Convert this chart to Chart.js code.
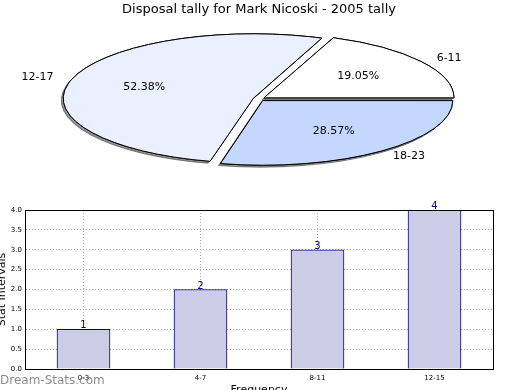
<!DOCTYPE html>
<html>
<head>
<meta charset="utf-8">
<script src="https://cdn.jsdelivr.net/npm/chart.js@4.4.1/dist/chart.umd.min.js"></script>
<style>
  body { margin: 0; background: #fff; }
  #wrap { position: relative; width: 520px; height: 390px; overflow: hidden; }
  canvas { position: absolute; left: 0; }
  #pieChart { top: 0; }
  #barChart { top: 195px; }
  #watermark { position: absolute; left: 0; top: 373px; font: 12px/14px 'DejaVu Sans'; color: rgba(120, 120, 120, 0.85); }
</style>
</head>
<body>
<div id="wrap">
  <canvas id="pieChart" width="520" height="195"></canvas>
  <canvas id="barChart" width="520" height="195"></canvas>
  <div id="watermark">Dream-Stats.com</div>
</div>
<script>
// pie: disposal ranges (counter-clockwise from 3 o'clock, like the original)
const pieLabels = ['6-11', '12-17', '18-23'];
const pieCounts = [4, 11, 6];
const pieColors = ['#ffffff', '#eaf0ff', '#c4d8ff'];

// bars
const barLabels = ['0-3', '4-7', '8-11', '12-15'];
const barValues = [1, 2, 3, 4];
const yTickLabels = ['0.0', '0.5', '1.0', '1.5', '2.0', '2.5', '3.0', '3.5', '4.0'];

const pieRadius = 190;
const squash = 0.34;
const explode = 24;

Chart.defaults.font.family = "'DejaVu Sans', sans-serif";
Chart.defaults.color = '#000';

// chart.js draws clockwise, so feed the slices in reverse order
const rev = arr => arr.slice().reverse();

const ellipsePie = {
    id: 'ellipsePie',
    afterDatasetsUpdate(chart) {
        chart.getDatasetMeta(0).data.forEach(arc => {
            const fix = 1 - Math.sin(Math.min(Math.PI, arc.circumference));
            arc.outerRadius = pieRadius - explode / 4 * fix;
        });
    },
    beforeDatasetsDraw(chart) {
        const ctx = chart.ctx;
        const arcs = chart.getDatasetMeta(0).data;
        const {x, y} = arcs[0];
        const base = ctx.getTransform();
        ctx.save();
        ctx.translate(x, y);
        ctx.scale(1, squash);
        ctx.translate(-x, -y);
        // outline is stroked without the squash so it keeps a 1px width
        ctx.stroke = function () {
            const t = this.getTransform();
            this.setTransform(base);
            CanvasRenderingContext2D.prototype.stroke.call(this);
            this.setTransform(t);
        };
        // shadow pass
        ctx.shadowColor = 'rgba(0, 0, 0, 0.42)';
        ctx.shadowOffsetX = -2;
        ctx.shadowOffsetY = 2;
        ctx.shadowBlur = 0.5;
        arcs.forEach(arc => arc.draw(ctx));
        ctx.shadowColor = 'rgba(0, 0, 0, 0)';
    },
    afterDatasetsDraw(chart) {
        const ctx = chart.ctx;
        ctx.restore();
        delete ctx.stroke;

        const data = chart.data.datasets[0].data;
        const total = data.reduce((a, b) => a + b, 0);
        const shift = explode / 4;
        ctx.save();
        ctx.font = "11px 'DejaVu Sans'";
        ctx.fillStyle = '#000';
        ctx.textBaseline = 'middle';
        chart.getDatasetMeta(0).data.forEach((arc, i) => {
            const mid = (arc.startAngle + arc.endAngle) / 2;
            const cos = Math.cos(mid), sin = Math.sin(mid);
            const lr = shift + pieRadius * 1.1;
            ctx.textAlign = cos >= 0 ? 'left' : 'right';
            ctx.fillText(chart.data.labels[i], arc.x + cos * lr, arc.y + sin * lr * squash);
            const pr = shift + pieRadius * 0.6;
            ctx.textAlign = 'center';
            ctx.fillText((data[i] / total * 100).toFixed(2) + '%', arc.x + cos * pr, arc.y + sin * pr * squash);
        });
        ctx.restore();
    }
};

new Chart(document.getElementById('pieChart'), {
    type: 'pie',
    data: {
        labels: rev(pieLabels),
        datasets: [{
            data: rev(pieCounts),
            backgroundColor: rev(pieColors),
            borderColor: '#000',
            borderWidth: 1,
            offset: explode,
            radius: pieRadius,
            clip: false
        }]
    },
    options: {
        responsive: false,
        animation: false,
        rotation: 90,
        layout: { padding: { left: 0, right: 2, top: 0, bottom: 14.6 } },
        plugins: {
            legend: { display: false },
            tooltip: { enabled: false },
            title: {
                display: true,
                text: 'Disposal tally for Mark Nicoski - 2005 tally',
                font: { size: 13, weight: 'normal' },
                color: '#000',
                padding: { top: 2, bottom: 0 }
            }
        }
    },
    plugins: [ellipsePie]
});

const barExtras = {
    id: 'barExtras',
    afterDatasetsDraw(chart) {
        const ctx = chart.ctx;
        const values = chart.data.datasets[0].data;
        ctx.save();
        ctx.font = "10px 'DejaVu Sans'";
        ctx.fillStyle = '#000080';
        ctx.textAlign = 'center';
        ctx.textBaseline = 'alphabetic';
        chart.getDatasetMeta(0).data.forEach((bar, i) => {
            ctx.fillText(String(values[i]), bar.x, bar.y - 1);
        });
        ctx.restore();
    },
    afterDraw(chart) {
        const {left, right, top, bottom} = chart.chartArea;
        const ctx = chart.ctx;
        ctx.save();
        ctx.strokeStyle = '#000';
        ctx.lineWidth = 1;
        ctx.strokeRect(Math.round(left) + 0.5, Math.round(top) + 0.5,
            Math.round(right - left), Math.round(bottom - top));
        ctx.restore();
    }
};

new Chart(document.getElementById('barChart'), {
    type: 'bar',
    data: {
        labels: barLabels,
        datasets: [{
            data: barValues,
            backgroundColor: '#cccce6',
            borderColor: '#000080',
            borderWidth: 1,
            barThickness: 53
        }]
    },
    options: {
        responsive: false,
        animation: false,
        layout: { padding: { left: 0, right: 27, top: 15, bottom: 0 } },
        plugins: {
            legend: { display: false },
            tooltip: { enabled: false }
        },
        scales: {
            x: {
                z: 1,
                offset: true,
                afterFit: s => { s.height = 21; },
                grid: { offset: false, color: '#a8a8a8', lineWidth: 1, drawTicks: false },
                border: { color: '#000', dash: [1, 2] },
                ticks: { font: { size: 7 }, color: '#000', padding: 5 },
                title: {
                    display: true,
                    text: 'Frequency',
                    font: { size: 11 },
                    color: '#000',
                    padding: { top: 0, bottom: -7 }
                }
            },
            y: {
                z: 1,
                min: 0,
                max: 4,
                afterFit: s => { s.width = 25; },
                grid: { color: '#a8a8a8', lineWidth: 1, drawTicks: false },
                border: { color: '#000', dash: [1, 2] },
                ticks: {
                    stepSize: 0.5,
                    font: { size: 7 },
                    color: '#000',
                    padding: 3,
                    callback: (v, i) => yTickLabels[i]
                },
                title: {
                    display: true,
                    text: 'Stat Intervals',
                    font: { size: 11 },
                    color: '#000',
                    padding: { top: -4, bottom: 0 }
                }
            }
        }
    },
    plugins: [barExtras]
});
</script>
</body>
</html>
